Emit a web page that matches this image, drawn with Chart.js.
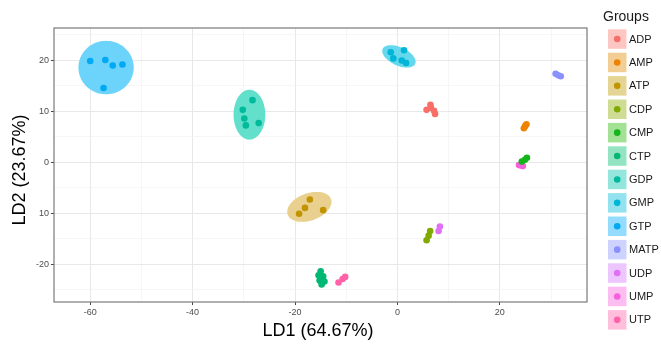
<!DOCTYPE html>
<html><head><meta charset="utf-8">
<script src="https://cdn.jsdelivr.net/npm/chart.js@4.4.1/dist/chart.umd.min.js"></script>
<style>html,body{margin:0;padding:0;background:#fff}#wrap{width:661px;height:345px}</style>
</head><body><div id="wrap"><canvas id="c" width="661" height="345"></canvas></div>
<script>
// ---- data ----
const groups = ["ADP","AMP","ATP","CDP","CMP","CTP","GDP","GMP","GTP","MATP","UDP","UMP","UTP"];
const pointColors = ["#f86f68","#ee8300","#c29400","#80aa00","#14b41c","#00b873","#00ba9c","#00b6d6","#00a9f4","#8a90ff","#e070f4","#f660dc","#ff62a8"];
const keyColors = ["rgba(248,118,109,0.42)","rgba(225,138,0,0.42)","rgba(190,156,0,0.42)","rgba(140,171,0,0.42)","rgba(36,183,0,0.42)","rgba(0,190,112,0.42)","rgba(0,193,171,0.42)","rgba(0,187,218,0.42)","rgba(0,172,252,0.42)","rgba(139,147,255,0.42)","rgba(213,117,254,0.42)","rgba(249,98,221,0.42)","rgba(255,101,172,0.42)"];

const ADP  = [[5.7,10.3],[6.45,11.3],[7.15,10.1],[7.35,9.5],[6.55,10.7]];
const AMP  = [[24.7,6.7],[25.2,7.45],[24.95,7.1]];
const ATP  = [[-17.1,-7.3],[-18.05,-8.95],[-19.2,-10.1],[-14.5,-9.4]];
const CDP  = [[5.7,-15.3],[6.4,-13.5],[6.1,-14.4]];
const CMP  = [[24.3,0.14],[25.3,0.9],[24.9,0.5]];
const CTP  = [[-15.0,-21.4],[-14.5,-22.4],[-15.2,-23.2],[-14.25,-23.4],[-14.8,-24.0],[-15.4,-22.2]];
const GDP  = [[-30.2,10.3],[-28.3,12.2],[-29.9,8.6],[-29.6,7.25],[-27.1,7.7]];
const GMP  = [[-1.3,21.6],[1.3,22.0],[-0.8,20.4],[0.85,20.0],[1.7,19.5]];
const GTP  = [[-60.0,19.9],[-57.05,20.1],[-55.6,19.0],[-53.7,19.2],[-57.4,14.6]];
const MATP = [[30.9,17.4],[31.9,16.9],[31.4,17.1]];
const UDP  = [[8.05,-13.5],[8.3,-12.6]];
const UMP  = [[23.75,-0.55],[24.5,-0.75],[24.1,-0.6]];
const UTP  = [[-11.5,-23.6],[-10.7,-22.9],[-10.2,-22.5]];
const groupPoints = [ADP,AMP,ATP,CDP,CMP,CTP,GDP,GMP,GTP,MATP,UDP,UMP,UTP];

// confidence ellipses (data units): centre, semi-axes, rotation (deg)
const ellipseGroups = ["ATP","GDP","GMP","GTP"];
const ellipseCX     = [-17.2,-28.9,0.3,-56.9];
const ellipseCY     = [-8.75,9.35,20.8,18.6];
const ellipseA      = [4.5,3.1,3.5,5.4];
const ellipseB      = [2.67,4.9,1.8,5.25];
const ellipseAngle  = [20,0,-25,0];
const ellipseFill   = ["#e9d08e","#62e0cc","#66d8ee","#6cd3fa"];

const xGridValues = [-60,-50,-40,-30,-20,-10,0,10,20,30];
const xTickValues = [-60,-40,-20,0,20];
const xTickLabels = ["-60","-40","-20","0","20"];
const yGridValues = [-25,-20,-15,-10,-5,0,5,10,15,20,25];
const yTickValues = [-20,-10,0,10,20];
const yTickLabels = ["-20","10","0","10","20"];

const xTitle = "LD1 (64.67%)";
const yTitle = "LD2 (23.67%)";
const legendTitle = "Groups";

// ---- chart ----
Chart.defaults.font.family = "'Liberation Sans', Arial, sans-serif";
const datasets = groups.map((g,i)=>({
  label: g,
  data: groupPoints[i].map(p=>({x:p[0],y:p[1]})),
  backgroundColor: pointColors[i],
  borderWidth: 0,
  pointRadius: 3.3,
  pointHoverRadius: 3.3
}));

const decor = {
  id: 'decor',
  beforeDatasetsDraw(chart){
    const ctx = chart.ctx, xs = chart.scales.x, ys = chart.scales.y;
    ellipseGroups.forEach((g,i)=>{
      const th = ellipseAngle[i]*Math.PI/180;
      ctx.save();
      ctx.beginPath();
      for(let k=0;k<=96;k++){
        const t = k/96*2*Math.PI;
        const dx = ellipseA[i]*Math.cos(t), dy = ellipseB[i]*Math.sin(t);
        const px = xs.getPixelForValue(ellipseCX[i] + dx*Math.cos(th) - dy*Math.sin(th));
        const py = ys.getPixelForValue(ellipseCY[i] + dx*Math.sin(th) + dy*Math.cos(th));
        if(k===0) ctx.moveTo(px,py); else ctx.lineTo(px,py);
      }
      ctx.closePath();
      ctx.fillStyle = ellipseFill[i];
      ctx.fill();
      ctx.restore();
    });
  },
  afterDraw(chart){
    const ctx = chart.ctx, a = chart.chartArea;
    ctx.save();
    // panel border
    ctx.strokeStyle = '#7a7a7a';
    ctx.lineWidth = 1.2;
    ctx.strokeRect(a.left, a.top, a.right-a.left, a.bottom-a.top);
    // axis titles
    ctx.fillStyle = '#000';
    ctx.font = "18px 'Liberation Sans', Arial, sans-serif";
    ctx.textAlign = 'center';
    ctx.textBaseline = 'middle';
    ctx.fillText(xTitle, 318, 331);
    ctx.save();
    ctx.translate(20.5, 170);
    ctx.rotate(-Math.PI/2);
    ctx.fillText(yTitle, 0, 0);
    ctx.restore();
    // legend
    ctx.textAlign = 'left';
    ctx.font = "14px 'Liberation Sans', Arial, sans-serif";
    ctx.fillStyle = '#1a1a1a';
    ctx.fillText(legendTitle, 603, 17.5);
    ctx.font = "11px 'Liberation Sans', Arial, sans-serif";
    groups.forEach((g,i)=>{
      const top = 29.3 + i*23.4;
      ctx.fillStyle = keyColors[i];
      ctx.fillRect(608, top, 18.5, 19.5);
      ctx.beginPath();
      ctx.arc(617.2, top+9.75, 3.3, 0, 2*Math.PI);
      ctx.fillStyle = pointColors[i];
      ctx.fill();
      ctx.fillStyle = '#1a1a1a';
      ctx.fillText(g, 629, top+10.2);
    });
    ctx.restore();
  }
};

const gridOpts = (isMajor) => ({
  color: c => isMajor(c.tick && c.tick.value) ? '#e8e8e8' : '#f2f2f2',
  lineWidth: c => isMajor(c.tick && c.tick.value) ? 1 : 0.7,
  tickColor: c => isMajor(c.tick && c.tick.value) ? '#444' : 'rgba(0,0,0,0)',
  tickLength: 3,
  drawTicks: true
});

new Chart(document.getElementById('c'), {
  type: 'scatter',
  data: { datasets },
  options: {
    responsive: false,
    devicePixelRatio: 1,
    animation: false,
    events: [],
    layout: { padding: { left: 0, top: 28, right: 74, bottom: 0 } },
    plugins: { legend: { display: false }, tooltip: { enabled: false } },
    scales: {
      x: {
        type: 'linear', min: -67.07, max: 37.03,
        afterBuildTicks: s => { s.ticks = xGridValues.map(v=>({value:v})); },
        afterFit: s => { s.height = 43; },
        grid: gridOpts(v => xTickValues.includes(v)),
        border: { display: false },
        ticks: {
          padding: 2, color: '#4d4d4d', font: { size: 9 }, maxRotation: 0, autoSkip: false,
          callback: v => { const k = xTickValues.indexOf(v); return k >= 0 ? xTickLabels[k] : ''; }
        }
      },
      y: {
        type: 'linear', min: -27.43, max: 26.37,
        afterBuildTicks: s => { s.ticks = yGridValues.map(v=>({value:v})); },
        afterFit: s => { s.width = 54; },
        grid: gridOpts(v => yTickValues.includes(v)),
        border: { display: false },
        ticks: {
          padding: 2, color: '#4d4d4d', font: { size: 9 }, autoSkip: false,
          callback: v => { const k = yTickValues.indexOf(v); return k >= 0 ? yTickLabels[k] : ''; }
        }
      }
    }
  },
  plugins: [decor]
});
</script>
</body></html>
